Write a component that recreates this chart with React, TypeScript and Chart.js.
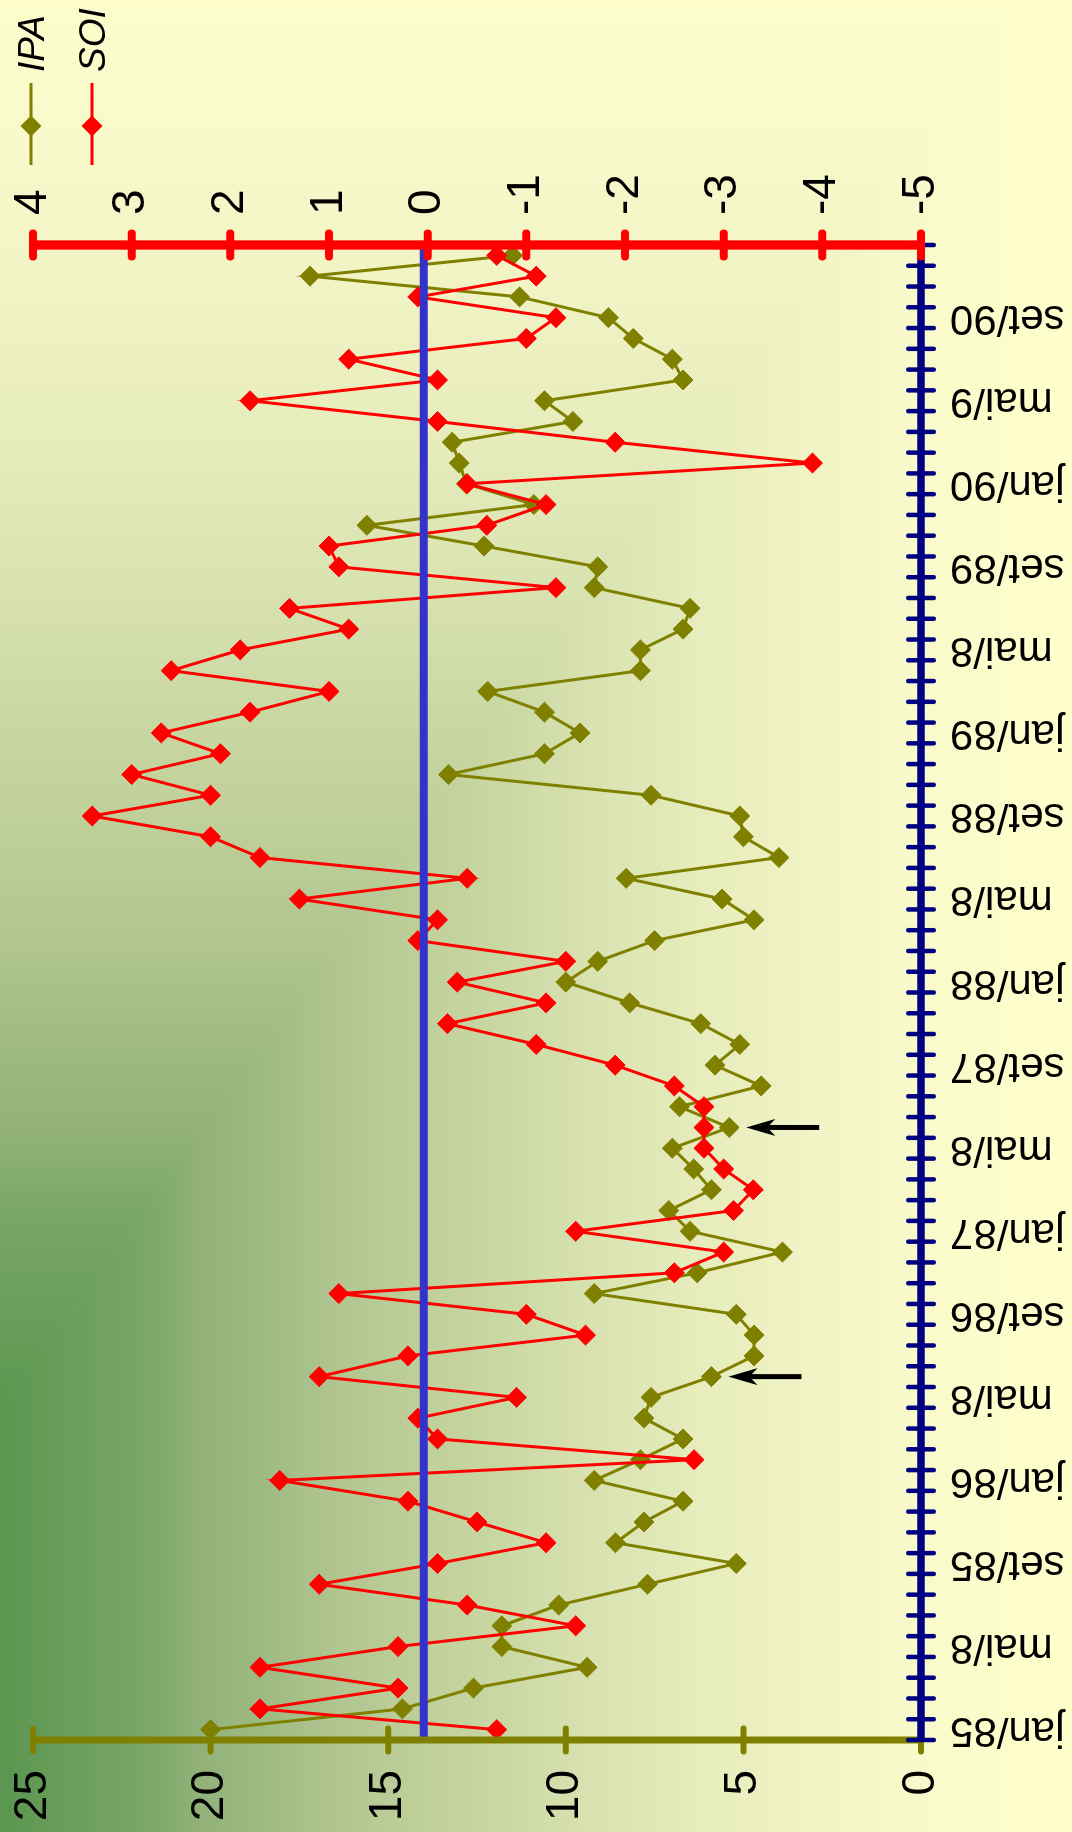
import React, { useEffect, useRef } from "react";
import { Chart, registerables } from "chart.js";

Chart.register(...registerables);

// ---------- data ----------
const monthNames = ["jan", "fev", "mar", "abr", "mai", "jun", "jul", "ago", "set", "out", "nov", "dez"];
const yearSuffixes = ["85", "86", "87", "88", "89", "90"];
const categories = yearSuffixes.flatMap((y) => monthNames.map((m) => `${m}/${y}`));

const xTickLabels = [
  "jan/85", "mai/8", "set/85",
  "jan/86", "mai/8", "set/86",
  "jan/87", "mai/8", "set/87",
  "jan/88", "mai/8", "set/88",
  "jan/89", "mai/8", "set/89",
  "jan/90", "mai/9", "set/90",
];
const xTickStep = 4;

const ipaValues = [
  20.0, 14.6, 12.6, 9.4, 11.8, 11.8, 10.2, 7.7, 5.2, 8.6, 7.8, 6.7,
  9.2, 7.9, 6.7, 7.8, 7.6, 5.9, 4.7, 4.7, 5.2, 9.2, 6.3, 3.9,
  6.5, 7.1, 5.9, 6.4, 7.0, 5.4, 6.8, 4.5, 5.8, 5.1, 6.2, 8.2,
  10.0, 9.1, 7.5, 4.7, 5.6, 8.3, 4.0, 5.0, 5.1, 7.6, 13.3, 10.6,
  9.6, 10.6, 12.2, 7.9, 7.9, 6.7, 6.5, 9.2, 9.1, 12.3, 15.6, 10.9,
  12.8, 13.0, 13.2, 9.8, 10.6, 6.7, 7.0, 8.1, 8.8, 11.3, 17.2, 11.5,
];

const soiValues = [
  -0.7, 1.7, 0.3, 1.7, 0.3, -1.5, -0.4, 1.1, -0.1, -1.2, -0.5, 0.2,
  1.5, -2.7, -0.1, 0.1, -0.9, 1.1, 0.2, -1.6, -1.0, 0.9, -2.5, -3.0,
  -1.5, -3.1, -3.3, -3.0, -2.8, -2.8, -2.8, -2.5, -1.9, -1.1, -0.2, -1.2,
  -0.3, -1.4, 0.1, -0.1, 1.3, -0.4, 1.7, 2.2, 3.4, 2.2, 3.0, 2.1,
  2.7, 1.8, 1.0, 2.6, 1.9, 0.8, 1.4, -1.3, 0.9, 1.0, -0.6, -1.2,
  -0.4, -3.9, -1.9, -0.1, 1.8, -0.1, 0.8, -1.0, -1.3, 0.1, -1.1, -0.7,
];

const ipaMin = 0;
const ipaMax = 25;
const ipaStep = 5;
const soiMin = -5;
const soiMax = 4;
const soiStep = 1;
const ipaReference = 14;
const arrowMonths = ["jun/86", "jun/87"];

// ---------- styles ----------
const OLIVE = "#808000";
const RED = "#ff0000";
const NAVY = "#000080";
const BLUE = "#3333cc";
const FONT = "'Liberation Sans', Arial, Helvetica, sans-serif";
const CANVAS_W = 1832;
const CANVAS_H = 1072;

const bgStops: [number, string][] = [
  [0, "#5a9650"],
  [0.13, "#78a666"],
  [0.19, "#92b27a"],
  [0.26, "#a2bc86"],
  [0.32, "#b2c692"],
  [0.4, "#c0d09a"],
  [0.47, "#cad8a4"],
  [0.55, "#d8e2b0"],
  [0.65, "#e6ecbc"],
  [0.765, "#f2f4c6"],
  [0.86, "#f9facb"],
  [1, "#ffffcc"],
];

const backgroundPlugin = {
  id: "cornerGradient",
  beforeDraw(chart: any) {
    const { ctx, width, height } = chart;
    const x0 = 420;
    const k = 0.72;
    ctx.save();
    const gV = ctx.createLinearGradient(0, 0, 0, height);
    bgStops.forEach(([o, c]) => gV.addColorStop(o, c));
    ctx.beginPath();
    ctx.moveTo(0, 0);
    ctx.lineTo(x0, 0);
    ctx.lineTo(width, k * (width - x0));
    ctx.lineTo(width, height);
    ctx.lineTo(0, height);
    ctx.closePath();
    ctx.fillStyle = gV;
    ctx.fill();
    const gH = ctx.createLinearGradient(x0, 0, x0 + height / k, 0);
    bgStops.forEach(([o, c]) => gH.addColorStop(o, c));
    ctx.beginPath();
    ctx.moveTo(x0 - 0.5, 0);
    ctx.lineTo(width, 0);
    ctx.lineTo(width, k * (width - x0) + 0.5);
    ctx.closePath();
    ctx.fillStyle = gH;
    ctx.fill();
    ctx.restore();
  },
};

function drawSeg(ctx: any, x1: number, y1: number, x2: number, y2: number) {
  ctx.beginPath();
  ctx.moveTo(x1, y1);
  ctx.lineTo(x2, y2);
  ctx.stroke();
}

const overlayPlugin = {
  id: "overlay",
  afterDatasetsDraw(chart: any) {
    const { ctx, chartArea: area, scales } = chart;
    const xs = scales.x;
    const yi = scales.yIPA;
    const ys = scales.ySOI;
    ctx.save();

    // reference line
    const ry = yi.getPixelForValue(ipaReference);
    ctx.strokeStyle = BLUE;
    ctx.lineWidth = 8;
    ctx.lineCap = "butt";
    drawSeg(ctx, area.left, ry, area.right, ry);

    // arrows
    ctx.fillStyle = "#000";
    ctx.strokeStyle = "#000";
    arrowMonths.forEach((m) => {
      const idx = categories.indexOf(m);
      const px = xs.getPixelForValue(idx);
      const py = yi.getPixelForValue(ipaValues[idx]);
      const tip = py + 17;
      ctx.beginPath();
      ctx.moveTo(px, tip);
      ctx.lineTo(px + 8.5, tip + 29);
      ctx.lineTo(px, tip + 21);
      ctx.lineTo(px - 8.5, tip + 29);
      ctx.closePath();
      ctx.fill();
      ctx.lineWidth = 5;
      ctx.lineCap = "butt";
      drawSeg(ctx, px, tip + 20, px, tip + 73);
    });

    // IPA axis (olive)
    ctx.strokeStyle = OLIVE;
    ctx.lineWidth = 7;
    ctx.lineCap = "butt";
    drawSeg(ctx, area.left, area.top, area.left, area.bottom);
    ctx.lineWidth = 6;
    ctx.lineCap = "round";
    yi.ticks.forEach((t: any) => {
      const p = yi.getPixelForValue(t.value);
      drawSeg(ctx, area.left - 11.5, p, area.left + 11.5, p);
    });

    // time axis (navy)
    ctx.strokeStyle = NAVY;
    ctx.lineWidth = 7.5;
    ctx.lineCap = "butt";
    drawSeg(ctx, area.left, area.bottom, area.right + 2, area.bottom);
    ctx.lineWidth = 4.5;
    ctx.lineCap = "round";
    for (let k = 0; k <= categories.length; k++) {
      const p = xs.getPixelForValue(k - 0.5);
      drawSeg(ctx, p, area.bottom - 12.8, p, area.bottom + 12.8);
    }

    // SOI axis (red)
    ctx.strokeStyle = RED;
    ctx.lineWidth = 9.3;
    ctx.lineCap = "butt";
    drawSeg(ctx, area.right, area.top - 1, area.right, area.bottom);
    ctx.lineWidth = 8;
    ctx.lineCap = "round";
    ys.ticks.forEach((t: any) => {
      const p = ys.getPixelForValue(t.value);
      drawSeg(ctx, area.right - 11.5, p, area.right + 11.5, p);
    });

    ctx.restore();
  },
};

const legendPlugin = {
  id: "customLegend",
  afterDraw(chart: any) {
    const { ctx } = chart;
    const rowsY = [31, 92];
    const lineX1 = 1667;
    const lineX2 = 1749;
    const markX = 1706;
    const textX = 1760;
    ctx.save();
    chart.data.datasets.forEach((ds: any, i: number) => {
      const y = rowsY[i];
      ctx.strokeStyle = ds.borderColor;
      ctx.fillStyle = ds.borderColor;
      ctx.lineWidth = 3;
      ctx.lineCap = "butt";
      ctx.beginPath();
      ctx.moveTo(lineX1, y);
      ctx.lineTo(lineX2, y);
      ctx.stroke();
      const r = 10.5;
      ctx.beginPath();
      ctx.moveTo(markX - r, y);
      ctx.lineTo(markX, y - r);
      ctx.lineTo(markX + r, y);
      ctx.lineTo(markX, y + r);
      ctx.closePath();
      ctx.fill();
      ctx.fillStyle = "#000";
      ctx.font = `italic 37px ${FONT}`;
      ctx.textAlign = "left";
      ctx.textBaseline = "alphabetic";
      ctx.fillText(ds.label, textX, y + 12.8);
    });
    ctx.restore();
  },
};

function fixBox(size: { width?: number; height?: number }) {
  return (s: any) => {
    if (size.width !== undefined) s.width = size.width;
    if (size.height !== undefined) s.height = size.height;
    s.paddingTop = 0;
    s.paddingBottom = 0;
    s.paddingLeft = 0;
    s.paddingRight = 0;
  };
}

export default function App() {
  const canvasRef = useRef<HTMLCanvasElement | null>(null);

  useEffect(() => {
    const canvas = canvasRef.current;
    if (!canvas) return;
    const chart = new Chart(canvas, {
      type: "line",
      data: {
        labels: categories,
        datasets: [
          {
            label: "IPA",
            data: ipaValues,
            yAxisID: "yIPA",
            borderColor: OLIVE,
            backgroundColor: OLIVE,
            pointBackgroundColor: OLIVE,
            pointBorderColor: OLIVE,
            borderWidth: 3,
            pointStyle: "rectRot",
            pointRadius: 10,
            pointBorderWidth: 1,
            tension: 0,
            fill: false,
            order: 2,
            clip: false,
          },
          {
            label: "SOI",
            data: soiValues,
            yAxisID: "ySOI",
            borderColor: RED,
            backgroundColor: RED,
            pointBackgroundColor: RED,
            pointBorderColor: RED,
            borderWidth: 3,
            pointStyle: "rectRot",
            pointRadius: 10,
            pointBorderWidth: 1,
            tension: 0,
            fill: false,
            order: 1,
            clip: false,
          },
        ],
      },
      options: {
        responsive: false,
        maintainAspectRatio: false,
        animation: false,
        devicePixelRatio: 1,
        events: [],
        layout: { padding: { top: 33, left: 0, right: 0, bottom: 0 } },
        plugins: {
          legend: { display: false },
          tooltip: { enabled: false },
          title: { display: false },
        },
        scales: {
          x: {
            type: "category",
            offset: true,
            grid: { display: false, drawTicks: false, offset: true },
            border: { display: false },
            ticks: {
              autoSkip: false,
              minRotation: 90,
              maxRotation: 90,
              padding: 29,
              color: "#000",
              font: { family: FONT, size: 42 },
              callback: (_v: any, i: number) =>
                i % xTickStep === 0 ? xTickLabels[i / xTickStep] ?? "" : "",
            },
            afterFit: fixBox({ height: 151 }),
          },
          yIPA: {
            type: "linear",
            position: "left",
            min: ipaMin,
            max: ipaMax,
            grid: { display: false, drawTicks: false },
            border: { display: false },
            ticks: {
              stepSize: ipaStep,
              padding: 30,
              color: "#000",
              font: { family: FONT, size: 46 },
            },
            afterFit: fixBox({ width: 92 }),
          },
          ySOI: {
            type: "linear",
            position: "right",
            min: soiMin,
            max: soiMax,
            grid: { display: false, drawTicks: false },
            border: { display: false },
            ticks: {
              stepSize: soiStep,
              padding: 30,
              color: "#000",
              font: { family: FONT, size: 46 },
            },
            afterFit: fixBox({ width: 245 }),
          },
        },
      } as any,
      plugins: [backgroundPlugin, overlayPlugin, legendPlugin],
    });
    return () => chart.destroy();
  }, []);

  return (
    <div
      style={{
        position: "fixed",
        left: 0,
        top: 0,
        width: 1072,
        height: 1832,
        overflow: "hidden",
        background: "#ffffcc",
      }}
    >
      <div
        style={{
          position: "absolute",
          left: 0,
          top: 0,
          width: CANVAS_W,
          height: CANVAS_H,
          transformOrigin: "0 0",
          transform: `translateY(${CANVAS_W}px) rotate(-90deg)`,
        }}
      >
        <canvas
          ref={canvasRef}
          width={CANVAS_W}
          height={CANVAS_H}
          style={{ display: "block", width: CANVAS_W, height: CANVAS_H }}
        />
      </div>
    </div>
  );
}
